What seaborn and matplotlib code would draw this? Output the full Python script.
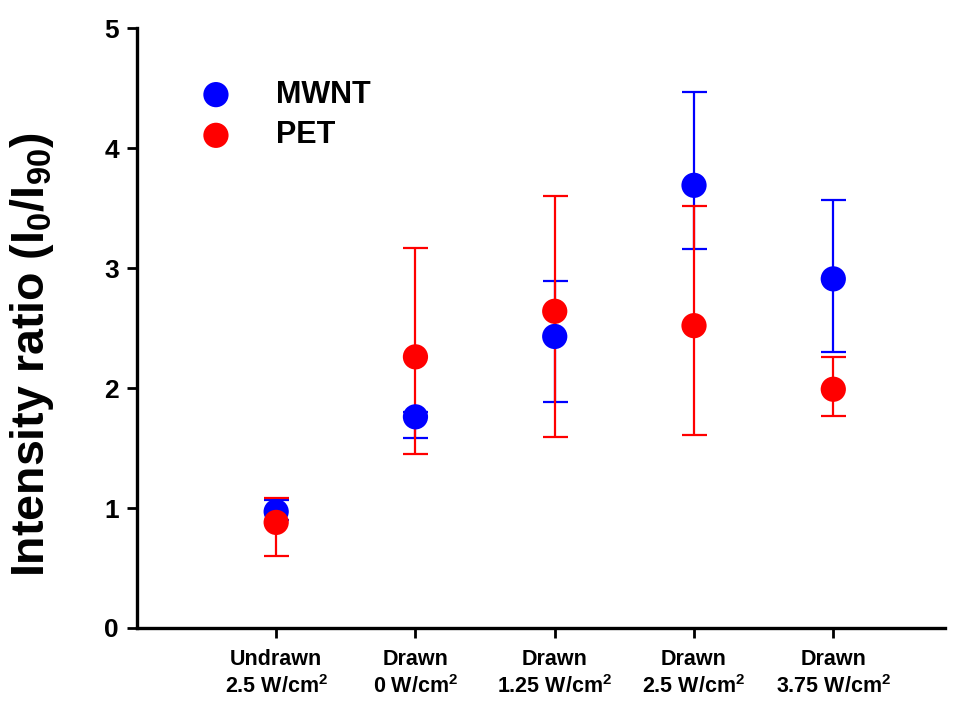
import numpy as np
import pandas as pd
import seaborn as sns
import matplotlib.pyplot as plt

# sample conditions on the x axis
conditions = ["Undrawn\n2.5 W/cm$^\\mathbf{2}$", "Drawn\n0 W/cm$^\\mathbf{2}$",
              "Drawn\n1.25 W/cm$^\\mathbf{2}$", "Drawn\n2.5 W/cm$^\\mathbf{2}$",
              "Drawn\n3.75 W/cm$^\\mathbf{2}$"]
positions = [1, 2, 3, 4, 5]

# intensity ratio I0/I90
mwnt_ratio = [0.97, 1.76, 2.43, 3.69, 2.91]
mwnt_low = [0.90, 1.58, 1.88, 3.16, 2.30]
mwnt_high = [1.07, 1.80, 2.89, 4.47, 3.57]

pet_ratio = [0.88, 2.26, 2.64, 2.52, 1.99]
pet_low = [0.60, 1.45, 1.59, 1.61, 1.77]
pet_high = [1.08, 3.17, 3.60, 3.52, 2.26]

sns.set_style("ticks")
plt.rcParams['font.family'] = ['Liberation Sans', 'DejaVu Sans']
plt.rcParams['font.weight'] = 'bold'
plt.rcParams['text.color'] = 'black'
plt.rcParams['axes.labelcolor'] = 'black'
plt.rcParams['xtick.color'] = 'black'
plt.rcParams['ytick.color'] = 'black'
plt.rcParams['mathtext.fontset'] = 'custom'
plt.rcParams['mathtext.bf'] = 'Liberation Sans:bold'
plt.rcParams['mathtext.rm'] = 'Liberation Sans:bold'
plt.rcParams['mathtext.default'] = 'bf'

fig = plt.figure(figsize=(9.64, 7.04), dpi=100)
ax = fig.add_axes([0.142, 0.108, 0.838, 0.852])

series = [("MWNT", "blue", mwnt_ratio, mwnt_low, mwnt_high),
          ("PET", "red", pet_ratio, pet_low, pet_high)]

for name, color, vals, lo, hi in series:
    vals = np.array(vals)
    yerr = [vals - np.array(lo), np.array(hi) - vals]
    ax.errorbar(positions, vals, yerr=yerr, fmt="none", ecolor=color,
                elinewidth=1.6, capsize=9, capthick=1.6)
    df = pd.DataFrame({"pos": positions, "ratio": vals})
    sns.scatterplot(data=df, x="pos", y="ratio", color=color, s=330,
                    edgecolor="none", label=name, ax=ax, zorder=3)

ax.set_xlim(0, 5.8)
ax.set_ylim(0, 5)
ax.set_xticks(positions)
ax.set_xticklabels(conditions, fontsize=15.5, fontweight="bold", linespacing=1.3)
ax.set_yticks(range(0, 6))
ax.set_yticklabels([str(v) for v in range(0, 6)], fontsize=19, fontweight="bold")
ax.set_xlabel("")
ax.set_ylabel("Intensity ratio (I$_\\mathbf{0}$/I$_\\mathbf{90}$)", fontsize=33.5,
              fontweight="bold")
ax.yaxis.set_label_coords(-0.10, 0.455)

sns.despine(ax=ax)
for side in ["left", "bottom"]:
    ax.spines[side].set_linewidth(2.4)
    ax.spines[side].set_color("black")
ax.tick_params(axis="both", direction="out", length=7, width=2, color="black", pad=6)
ax.tick_params(axis="x", pad=8)

ax.legend(loc="upper left", bbox_to_anchor=(0.026, 0.96), frameon=False,
          prop={"size": 22, "weight": "bold"}, handletextpad=0.95,
          labelspacing=0.35, markerscale=1.0)

fig.savefig("out.png", dpi=100)
